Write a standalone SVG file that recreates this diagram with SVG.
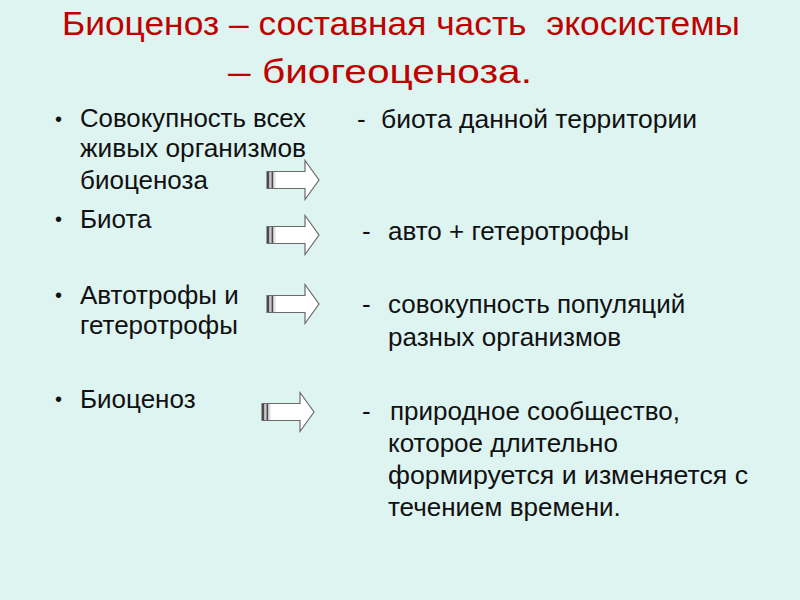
<svg xmlns="http://www.w3.org/2000/svg" width="800" height="600" viewBox="0 0 800 600">
<style>
.t{font-family:"Liberation Sans",Arial,sans-serif;fill:#c00000;font-size:33px}
.b{font-family:"Liberation Sans",Arial,sans-serif;fill:#111;font-size:26px}
.blt{font-family:"Liberation Sans",Arial,sans-serif;fill:#111;font-size:20px}
</style>
<defs>
<g id="blockArrow">
<path d="M0,-8.5 H38 V-19.5 L52,0 L38,19.5 V8.5 H0 Z" fill="#fff" stroke="#6a6a6a" stroke-width="1.2"/>
<rect x="0" y="-8" width="2.5" height="16" fill="#4a4a4a"/>
<rect x="2.5" y="-8" width="2" height="16" fill="#c8c8c8"/>
<rect x="4.5" y="-8" width="2" height="16" fill="#4a4a4a"/>
<rect x="6.5" y="-8" width="2" height="16" fill="#e0e0e0"/>
</g>
</defs>
<rect width="800" height="600" fill="#ddf4f1"/>
<g id="title">
<text class="t" x="62" y="35" textLength="678" lengthAdjust="spacingAndGlyphs" xml:space="preserve">Биоценоз – составная часть  экосистемы</text>
<text class="t" x="228" y="83" textLength="304" lengthAdjust="spacingAndGlyphs">– биогеоценоза.</text>
</g>
<g id="term-1">
<text class="blt" x="55" y="126">•</text>
<text class="b" x="80" y="127" textLength="226" lengthAdjust="spacingAndGlyphs">Совокупность всех</text>
<text class="b" x="80" y="157" textLength="226" lengthAdjust="spacingAndGlyphs">живых организмов</text>
<text class="b" x="80" y="189">биоценоза</text>
</g>
<g id="term-2">
<text class="blt" x="55" y="226">•</text>
<text class="b" x="80" y="228">Биота</text>
</g>
<g id="term-3">
<text class="blt" x="55" y="302">•</text>
<text class="b" x="80" y="304">Автотрофы и</text>
<text class="b" x="80" y="334">гетеротрофы</text>
</g>
<g id="term-4">
<text class="blt" x="55" y="406">•</text>
<text class="b" x="80" y="408">Биоценоз</text>
</g>
<g id="def-1">
<text class="b" x="357" y="128">-</text>
<text class="b" x="381" y="128" textLength="316" lengthAdjust="spacingAndGlyphs">биота данной территории</text>
</g>
<g id="def-2">
<text class="b" x="362" y="240">-</text>
<text class="b" x="388" y="240">авто + гетеротрофы</text>
</g>
<g id="def-3">
<text class="b" x="362" y="313">-</text>
<text class="b" x="388" y="313">совокупность популяций</text>
<text class="b" x="388" y="346">разных организмов</text>
</g>
<g id="def-4">
<text class="b" x="362" y="420">-</text>
<text class="b" x="390" y="420">природное сообщество,</text>
<text class="b" x="388" y="452">которое длительно</text>
<text class="b" x="388" y="484" textLength="360" lengthAdjust="spacingAndGlyphs">формируется и изменяется с</text>
<text class="b" x="388" y="516">течением времени.</text>
</g>
<g id="connectors">
<use href="#blockArrow" x="267" y="180"/>
<use href="#blockArrow" x="267" y="235"/>
<use href="#blockArrow" x="267" y="304"/>
<use href="#blockArrow" x="262" y="412"/>
</g>
</svg>
